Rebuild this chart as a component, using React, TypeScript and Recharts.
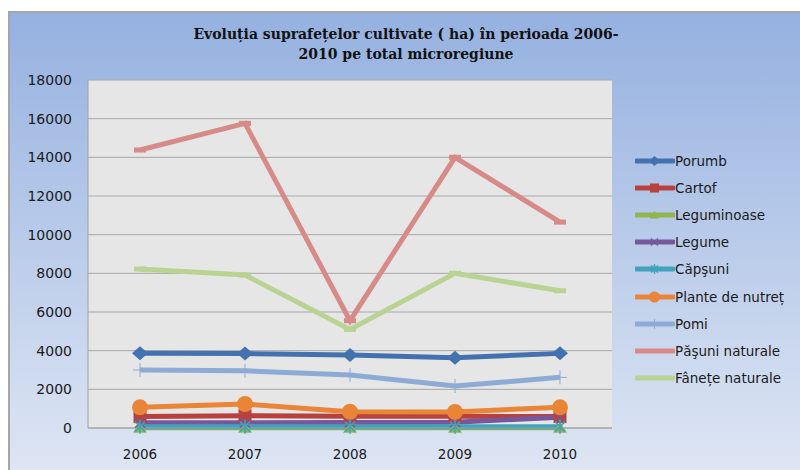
import React from 'react';
import { LineChart, Line, XAxis, YAxis, CartesianGrid, Legend } from 'recharts';

// values (ha)
const YEARS = ['2006', '2007', '2008', '2009', '2010'];
const PORUMB = [3860, 3850, 3780, 3640, 3860];
const CARTOF = [590, 630, 610, 610, 590];
const LEGUMINOASE = [10, 10, 10, 10, 10];
const LEGUME = [270, 270, 290, 300, 560];
const CAPSUNI = [70, 70, 70, 70, 70];
const PLANTE = [1070, 1240, 840, 830, 1070];
const POMI = [3000, 2960, 2740, 2170, 2620];
const PASUNI = [14380, 15760, 5550, 14000, 10650];
const FANETE = [8220, 7910, 5100, 8000, 7100];
const Y_TICKS = [0, 2000, 4000, 6000, 8000, 10000, 12000, 14000, 16000, 18000];

const SERIES = [
  { key: 'porumb', name: 'Porumb', values: PORUMB, color: '#4472b0', marker: 'diamond' },
  { key: 'cartof', name: 'Cartof', values: CARTOF, color: '#b8413e', marker: 'square' },
  { key: 'leguminoase', name: 'Leguminoase', values: LEGUMINOASE, color: '#8fb54c', marker: 'triangle' },
  { key: 'legume', name: 'Legume', values: LEGUME, color: '#77589c', marker: 'x' },
  { key: 'capsuni', name: 'Căpşuni', values: CAPSUNI, color: '#3fa3bd', marker: 'star' },
  { key: 'plante', name: 'Plante de nutreț', values: PLANTE, color: '#ea8537', marker: 'circle' },
  { key: 'pomi', name: 'Pomi', values: POMI, color: '#8eabd6', marker: 'plus' },
  { key: 'pasuni', name: 'Păşuni naturale', values: PASUNI, color: '#d68b89', marker: 'dash' },
  { key: 'fanete', name: 'Fânețe naturale', values: FANETE, color: '#b9d392', marker: 'dash' },
];

const data = YEARS.map((year, i) => {
  const row: Record<string, any> = { year };
  SERIES.forEach((s) => { row[s.key] = s.values[i]; });
  return row;
});

function Marker({ type, cx, cy, color, s = 1 }: { type: string; cx: number; cy: number; color: string; s?: number }) {
  switch (type) {
    case 'diamond':
      return <polygon points={`${cx},${cy - 7 * s} ${cx + 8 * s},${cy} ${cx},${cy + 7 * s} ${cx - 8 * s},${cy}`} fill={color} />;
    case 'square':
      return <rect x={cx - 6.5 * s} y={cy - 6.5 * s} width={13 * s} height={13 * s} fill={color} />;
    case 'triangle':
      return <polygon points={`${cx},${cy - 6 * s} ${cx + 7 * s},${cy + 5 * s} ${cx - 7 * s},${cy + 5 * s}`} fill={color} />;
    case 'x':
      return (
        <g stroke={color} strokeWidth={1.5}>
          <line x1={cx - 5 * s} y1={cy - 5 * s} x2={cx + 5 * s} y2={cy + 5 * s} />
          <line x1={cx - 5 * s} y1={cy + 5 * s} x2={cx + 5 * s} y2={cy - 5 * s} />
        </g>
      );
    case 'star':
      return (
        <g stroke={color} strokeWidth={1.5}>
          <line x1={cx - 5 * s} y1={cy - 5 * s} x2={cx + 5 * s} y2={cy + 5 * s} />
          <line x1={cx - 5 * s} y1={cy + 5 * s} x2={cx + 5 * s} y2={cy - 5 * s} />
          <line x1={cx} y1={cy - 7 * s} x2={cx} y2={cy + 7 * s} />
        </g>
      );
    case 'circle':
      return <circle cx={cx} cy={cy} r={8 * s} fill={color} />;
    case 'plus':
      return (
        <g stroke={color} strokeWidth={1}>
          <line x1={cx - 7 * s} y1={cy} x2={cx + 7 * s} y2={cy} />
          <line x1={cx} y1={cy - 7 * s} x2={cx} y2={cy + 7 * s} />
        </g>
      );
    case 'dash':
      return <rect x={cx - 6 * s} y={cy - 2.5 * s} width={12 * s} height={5 * s} fill={color} />;
    default:
      return null;
  }
}

const makeDot = (type: string, color: string) => (props: any) => {
  const { cx, cy, index } = props;
  if (cx == null || cy == null) return <g key={`${type}-${index}`} />;
  return (
    <g key={`${type}-${index}`}>
      <Marker type={type} cx={cx} cy={cy} color={color} />
    </g>
  );
};

function LegendList() {
  return (
    <div style={{ fontFamily: 'DejaVu Sans', fontSize: 13.5, color: '#1a1a1a', textAlign: 'left' }}>
      {SERIES.map((s) => (
        <div key={s.key} style={{ height: 27.2, display: 'flex', alignItems: 'center' }}>
          <svg width={40} height={20} style={{ display: 'block' }}>
            <line x1={1} y1={10} x2={38} y2={10} stroke={s.color} strokeWidth={5} strokeLinecap="round" />
            {s.marker !== 'dash' && <Marker type={s.marker} cx={19.5} cy={10} color={s.color} s={0.7} />}
          </svg>
          <span style={{ whiteSpace: 'nowrap' }}>{s.name}</span>
        </div>
      ))}
    </div>
  );
}

export default function App() {
  return (
    <div style={{ position: 'absolute', left: 0, top: 0, width: 800, height: 470, background: '#fff', overflow: 'hidden' }}>
      <div
        style={{
          position: 'absolute',
          left: 8,
          top: 11,
          width: 800,
          height: 470,
          borderLeft: '2px solid #a6a6a6',
          borderTop: '2px solid #a6a6a6',
          background: 'linear-gradient(to bottom, #95b1e0 0%, #e0e7f4 100%)',
        }}
      />
      <div
        style={{
          position: 'absolute',
          left: 0,
          top: 25,
          width: 812,
          textAlign: 'center',
          fontFamily: 'DejaVu Serif',
          fontWeight: 'bold',
          fontSize: 14,
          lineHeight: '19.5px',
          color: '#111',
        }}
      >
        Evoluția suprafețelor cultivate ( ha) în perioada 2006-
        <br />
        2010 pe total microregiune
      </div>
      <div style={{ position: 'absolute', left: 0, top: 0 }}>
        <LineChart width={800} height={470} data={data} margin={{ top: 80, right: 188, bottom: 12, left: 0 }}>
          <CartesianGrid vertical={false} fill="#e6e6e6" stroke="#a8a8a8" />
          <XAxis
            dataKey="year"
            padding={{ left: 52, right: 52 }}
            height={30}
            tickLine={false}
            tickSize={0}
            tickMargin={21}
            axisLine={{ stroke: '#a0a0a0' }}
            tick={{ fill: '#1a1a1a', fontSize: 13.5, fontFamily: 'DejaVu Sans' }}
          />
          <YAxis
            width={88}
            domain={[0, 18000]}
            ticks={Y_TICKS}
            interval={0}
            tickLine={false}
            tickSize={0}
            tickMargin={16}
            axisLine={{ stroke: '#a0a0a0' }}
            tick={{ fill: '#1a1a1a', fontSize: 14, fontFamily: 'DejaVu Sans' }}
          />
          <YAxis
            yAxisId="edge"
            orientation="right"
            width={0}
            domain={[0, 18000]}
            tick={false}
            tickLine={false}
            axisLine={{ stroke: '#b0b0b0' }}
          />
          <Legend
            layout="horizontal"
            verticalAlign="middle"
            align="center"
            wrapperStyle={{ left: 635, top: 147, width: 165 }}
            content={() => <LegendList />}
          />
          {SERIES.map((s) => (
            <Line
              key={s.key}
              type="linear"
              dataKey={s.key}
              name={s.name}
              stroke={s.color}
              strokeWidth={5}
              dot={makeDot(s.marker, s.color)}
              activeDot={false}
              isAnimationActive={false}
            />
          ))}
        </LineChart>
      </div>
    </div>
  );
}
